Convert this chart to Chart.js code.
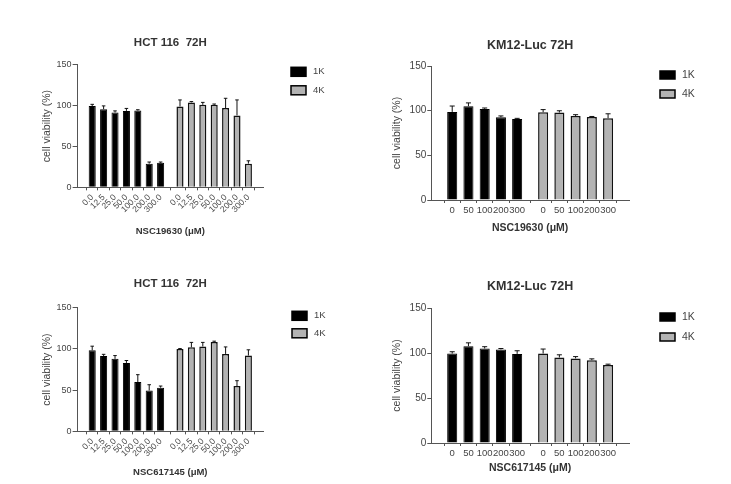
<!DOCTYPE html>
<html lang="en">
<head>
<meta charset="UTF-8" />
<title>cell viability 72H</title>
<script src="https://cdn.jsdelivr.net/npm/chart.js"></script>
<style>
  body { margin: 0; background: #fff; }
  .wrap { position: relative; width: 731px; height: 484px; overflow: hidden; }
  canvas { position: absolute; }
</style>
</head>
<body>
<div class="wrap">
  <canvas id="hct19630" width="365" height="215" style="left:0;top:28px"></canvas>
  <canvas id="km19630" width="366" height="215" style="left:365px;top:28px"></canvas>
  <canvas id="hct617145" width="365" height="218" style="left:0;top:266px"></canvas>
  <canvas id="km617145" width="366" height="218" style="left:365px;top:266px"></canvas>
</div>
<script>
  Chart.defaults.font.family = "'Liberation Sans', Arial, sans-serif";
  Chart.defaults.color = "#444";

  // doses (uM)
  var hctDoses = ["0.0", "12.5", "25.0", "50.0", "100.0", "200.0", "300.0"];
  var kmDoses = ["0", "50", "100", "200", "300"];

  // HCT 116, NSC19630
  var hct19630_1K = [99.6, 95.7, 91.6, 93.6, 94, 29, 30];
  var hct19630_1K_err = [2, 4, 2, 3, 1, 2, 1];
  var hct19630_4K = [99, 104, 101, 101, 97, 88, 29];
  var hct19630_4K_err = [8, 1, 3, 1, 12, 19, 3.5];

  // KM12-Luc, NSC19630
  var km19630_1K = [98.6, 105, 102, 92.6, 90.7];
  var km19630_1K_err = [6.6, 3.7, 1, 1.5, 0.7];
  var km19630_4K = [98.2, 97.9, 94, 93, 91.5];
  var km19630_4K_err = [3, 2, 1.5, 0.5, 5];

  // HCT 116, NSC617145
  var hct617145_1K = [98.4, 91.5, 88, 83, 59.8, 49.6, 53];
  var hct617145_1K_err = [5, 2, 4, 3, 9, 7, 2];
  var hct617145_4K = [100, 102, 103, 108.5, 94, 55, 92];
  var hct617145_4K_err = [0.5, 6, 5, 1, 8.5, 6.5, 7];

  // KM12-Luc, NSC617145
  var km617145_1K = [99.4, 107.6, 105, 104, 99];
  var km617145_1K_err = [2, 3.7, 2, 1, 3.5];
  var km617145_4K = [99.4, 95, 94, 92, 86.6];
  var km617145_4K_err = [5, 3, 2, 1.5, 1];

  // SEM bars, upper side only
  var errorBars = {
    id: "errorBars",
    afterDatasetsDraw: function (chart) {
      var ctx = chart.ctx;
      var y = chart.scales.y;
      ctx.save();
      ctx.strokeStyle = "#111";
      ctx.lineWidth = 1;
      chart.data.datasets.forEach(function (ds, di) {
        chart.getDatasetMeta(di).data.forEach(function (bar, i) {
          var top = y.getPixelForValue(ds.data[i].y + ds.errors[i]);
          var half = bar.width / 4;
          ctx.beginPath();
          ctx.moveTo(bar.x, bar.y);
          ctx.lineTo(bar.x, top);
          ctx.moveTo(bar.x - half, top);
          ctx.lineTo(bar.x + half, top);
          ctx.stroke();
        });
      });
      ctx.restore();
    }
  };

  // legend off to the right of the plot, like the Prism layout
  var sideLegend = {
    id: "sideLegend",
    afterDraw: function (chart, args, o) {
      var ctx = chart.ctx;
      var area = chart.chartArea;
      ctx.save();
      ctx.font = o.size + "px 'Liberation Sans', Arial, sans-serif";
      ctx.textBaseline = "middle";
      chart.data.datasets.forEach(function (ds, i) {
        var x = area.right + o.dx;
        var yc = area.top + o.dy + i * o.gap;
        ctx.fillStyle = ds.backgroundColor;
        ctx.fillRect(x, yc - o.h / 2, o.w, o.h);
        ctx.strokeStyle = "#000";
        ctx.lineWidth = 1.5;
        ctx.strokeRect(x, yc - o.h / 2, o.w, o.h);
        ctx.fillStyle = "#444";
        ctx.fillText(ds.label, x + o.w + 7, yc);
      });
      ctx.restore();
    }
  };

  function drawPanel(id, p) {
    var n = p.doses.length;
    var pos1 = p.doses.map(function (d, i) { return i; });
    var pos4 = p.doses.map(function (d, i) { return i + n - 1 + p.gap; });
    var tickPos = pos1.concat(pos4);
    var tickText = p.doses.concat(p.doses);
    function points(xs, ys) {
      return ys.map(function (v, i) { return { x: xs[i], y: v }; });
    }

    new Chart(document.getElementById(id), {
      type: "bar",
      data: {
        datasets: [
          {
            label: "1K",
            data: points(pos1, p.k1),
            errors: p.e1,
            backgroundColor: "#000",
            borderColor: "#000",
            borderWidth: 1,
            grouped: false,
            barPercentage: 0.62,
            categoryPercentage: 1,
          },
          {
            label: "4K",
            data: points(pos4, p.k4),
            errors: p.e4,
            backgroundColor: "#b3b3b3",
            borderColor: "#111",
            borderWidth: 1.5,
            grouped: false,
            barPercentage: 0.62,
            categoryPercentage: 1,
          },
        ],
      },
      options: {
        responsive: false,
        animation: false,
        layout: { padding: p.pad },
        plugins: {
          legend: { display: false },
          tooltip: { enabled: false },
          title: {
            display: true,
            text: p.title,
            fullSize: false,
            color: "#333",
            font: { size: p.titleSize, weight: "bold" },
            padding: { top: 0, bottom: p.titleGap },
          },
          sideLegend: p.legend,
        },
        scales: {
          x: {
            type: "linear",
            min: -p.edge,
            max: tickPos[tickPos.length - 1] + p.edge,
            afterBuildTicks: function (axis) {
              axis.ticks = tickPos.map(function (v) { return { value: v }; });
            },
            grid: { drawOnChartArea: false, tickLength: 3, color: "#555" },
            border: { color: "#555" },
            ticks: {
              autoSkip: false,
              minRotation: p.rot,
              maxRotation: p.rot,
              padding: 2,
              color: "#444",
              font: { size: p.xTickSize },
              callback: function (v, i) { return tickText[i]; },
            },
            title: {
              display: true,
              text: p.xTitle,
              color: "#333",
              font: { size: p.xLabelSize, weight: "bold" },
              padding: { top: p.xTitleGap, bottom: 0 },
            },
          },
          y: {
            min: 0,
            max: 150,
            grid: { drawOnChartArea: false, tickLength: p.yTickLen, color: "#555" },
            border: { color: "#555" },
            ticks: { stepSize: 50, padding: 1, color: "#444", font: { size: p.yTickSize } },
            title: {
              display: true,
              text: "cell viability (%)",
              color: "#444",
              font: { size: 10.5 },
              padding: { top: 0, bottom: p.yTitleGap },
            },
          },
        },
      },
      plugins: [errorBars, sideLegend],
    });
  }

  drawPanel("hct19630", {
    title: "HCT 116  72H", xTitle: "NSC19630 (\u03bcM)", doses: hctDoses,
    k1: hct19630_1K, e1: hct19630_1K_err, k4: hct19630_4K, e4: hct19630_4K_err,
    gap: 1.7, edge: 0.7, rot: 45, xTickSize: 8.5, yTickSize: 9, xLabelSize: 9.5, titleSize: 11.5,
    titleGap: 15, xTitleGap: 9, yTickLen: 5, yTitleGap: 2,
    pad: { left: 41, right: 102, top: 8, bottom: 6 },
    legend: { dx: 28, dy: 7, gap: 18.5, w: 15, h: 9, size: 9.5 },
  });

  drawPanel("km19630", {
    title: "KM12-Luc 72H", xTitle: "NSC19630 (\u03bcM)", doses: kmDoses,
    k1: km19630_1K, e1: km19630_1K_err, k4: km19630_4K, e4: km19630_4K_err,
    gap: 1.6, edge: 0.68, rot: 0, xTickSize: 9.5, yTickSize: 10, xLabelSize: 10.5, titleSize: 12.5,
    titleGap: 12.5, xTitleGap: 3.5, yTickLen: 4, yTitleGap: 5,
    pad: { left: 26, right: 102, top: 10.5, bottom: 8.5 },
    legend: { dx: 31, dy: 9, gap: 19, w: 15, h: 8, size: 10.5 },
  });

  drawPanel("hct617145", {
    title: "HCT 116  72H", xTitle: "NSC617145 (\u03bcM)", doses: hctDoses,
    k1: hct617145_1K, e1: hct617145_1K_err, k4: hct617145_4K, e4: hct617145_4K_err,
    gap: 1.7, edge: 0.7, rot: 45, xTickSize: 8.5, yTickSize: 9, xLabelSize: 9.5, titleSize: 11.5,
    titleGap: 17, xTitleGap: 6, yTickLen: 5, yTitleGap: 2,
    pad: { left: 41, right: 102, top: 11, bottom: 6 },
    legend: { dx: 29, dy: 8, gap: 17.5, w: 15, h: 9, size: 9.5 },
  });

  drawPanel("km617145", {
    title: "KM12-Luc 72H", xTitle: "NSC617145 (\u03bcM)", doses: kmDoses,
    k1: km617145_1K, e1: km617145_1K_err, k4: km617145_4K, e4: km617145_4K_err,
    gap: 1.6, edge: 0.68, rot: 0, xTickSize: 9.5, yTickSize: 10, xLabelSize: 10.5, titleSize: 12.5,
    titleGap: 13.5, xTitleGap: 0.5, yTickLen: 4, yTitleGap: 5,
    pad: { left: 26, right: 102, top: 13.5, bottom: 9.5 },
    legend: { dx: 31, dy: 9, gap: 20, w: 15, h: 8, size: 10.5 },
  });
</script>
</body>
</html>
